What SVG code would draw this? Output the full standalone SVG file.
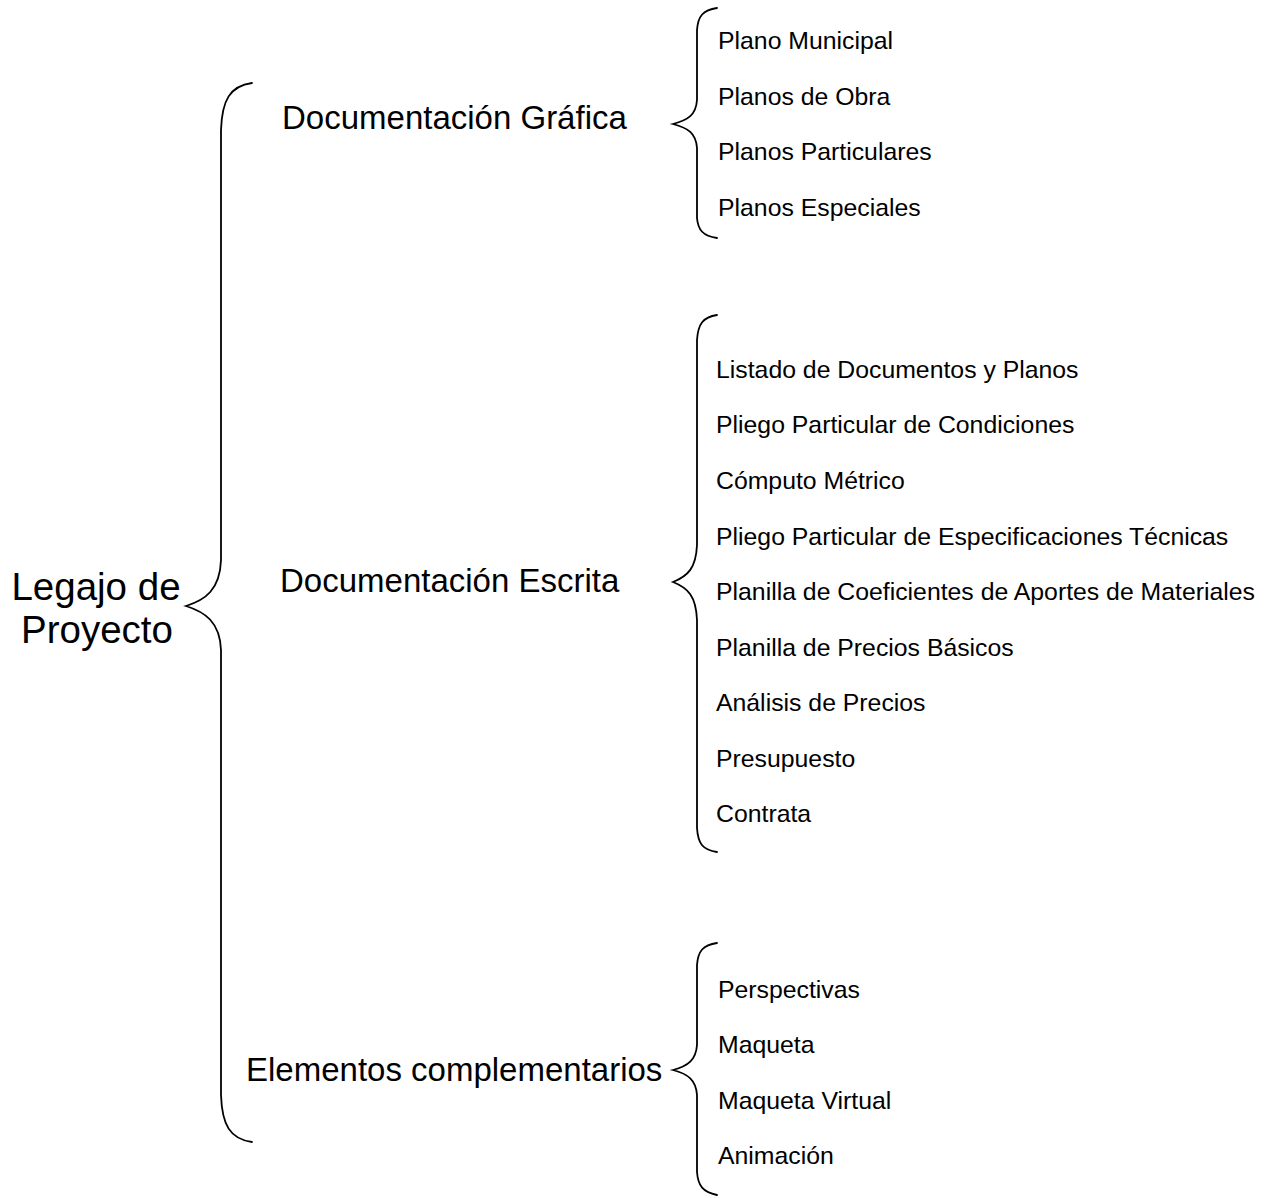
<svg xmlns="http://www.w3.org/2000/svg" width="1273" height="1198" viewBox="0 0 1273 1198">
<style>
.br{fill:none;stroke:#000;stroke-width:1.8;stroke-linecap:round}
text{font-family:"Liberation Sans",Arial,sans-serif;fill:#000}
.root{font-size:38.5px}
.cat{font-size:33px}
.it{font-size:24.8px}
</style>
<rect width="1273" height="1198" fill="#fff"/>
<g id="connectors">
<path class="br" d="M252,83 C230,86 222,100 221,130 L221,560 C220,590 205,600 186,606 C205,612 220,622 221,650 L221,1095 C222,1125 230,1139 252,1142"/>
<path class="br" d="M717,8 C703,10 698,16 697,30 L697,100 C696,115 688,120 673,124 C688,128 696,133 697,148 L697,218 C698,230 703,236 717,238"/>
<path class="br" d="M717,315 C703,317 698,324 697,340 L697,545 C696,568 688,576 673,582 C688,588 696,596 697,620 L697,828 C698,844 703,850 717,852"/>
<path class="br" d="M717,943 C703,945 698,951 697,965 L697,1045 C696,1060 688,1066 673,1070 C688,1074 696,1080 697,1095 L697,1172 C698,1186 703,1192 717,1195"/>
</g>
<g id="root"><text class="root" x="96" y="600" text-anchor="middle">Legajo de</text><text class="root" x="97" y="643" text-anchor="middle">Proyecto</text></g>
<g id="cat-grafica"><text class="cat" x="282" y="129">Documentación Gráfica</text></g>
<g id="cat-escrita"><text class="cat" x="280" y="592">Documentación Escrita</text></g>
<g id="cat-complementarios"><text class="cat" x="246" y="1081">Elementos complementarios</text></g>
<g id="items-grafica">
<text class="it" x="718" y="49">Plano Municipal</text>
<text class="it" x="718" y="105">Planos de Obra</text>
<text class="it" x="718" y="160">Planos Particulares</text>
<text class="it" x="718" y="216">Planos Especiales</text>
</g>
<g id="items-escrita">
<text class="it" x="716" y="378">Listado de Documentos y Planos</text>
<text class="it" x="716" y="433">Pliego Particular de Condiciones</text>
<text class="it" x="716" y="489">Cómputo Métrico</text>
<text class="it" x="716" y="545">Pliego Particular de Especificaciones Técnicas</text>
<text class="it" x="716" y="600">Planilla de Coeficientes de Aportes de Materiales</text>
<text class="it" x="716" y="656">Planilla de Precios Básicos</text>
<text class="it" x="716" y="711">Análisis de Precios</text>
<text class="it" x="716" y="767">Presupuesto</text>
<text class="it" x="716" y="822">Contrata</text>
</g>
<g id="items-complementarios">
<text class="it" x="718" y="998">Perspectivas</text>
<text class="it" x="718" y="1053">Maqueta</text>
<text class="it" x="718" y="1109">Maqueta Virtual</text>
<text class="it" x="718" y="1164">Animación</text>
</g>
</svg>
